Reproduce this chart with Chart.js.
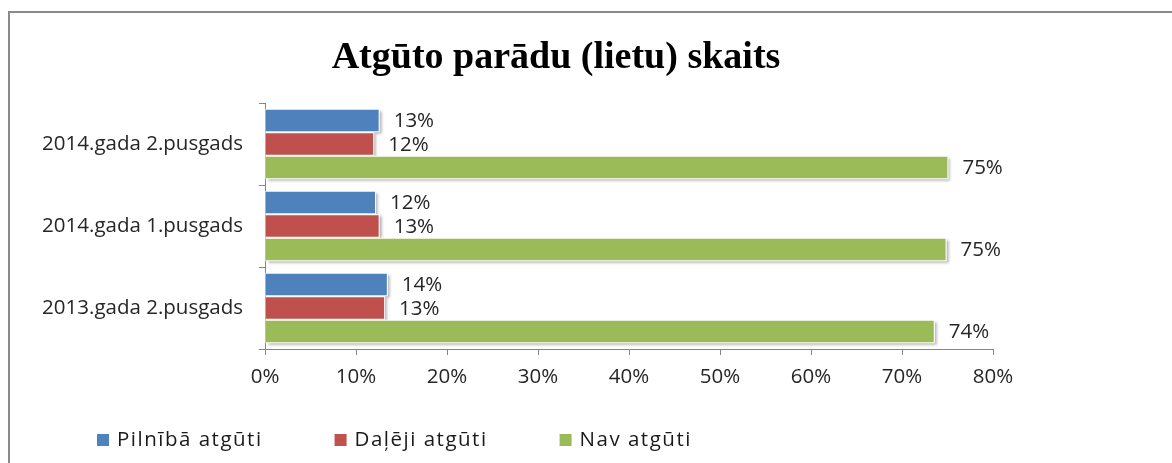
<!DOCTYPE html>
<html>
<head>
<meta charset="utf-8">
<script src="https://cdn.jsdelivr.net/npm/chart.js@4.4.1/dist/chart.umd.min.js"></script>
<style>
  html, body { margin: 0; padding: 0; background: #fff; overflow: hidden; }
  #wrap { position: relative; width: 1172px; height: 463px; }
  #frame { position: absolute; left: 8px; top: 11px; width: 1250px; height: 520px; border: 2px solid #8a8a8a; box-sizing: border-box; }
  #chart { position: absolute; left: 0; top: 0; }
</style>
</head>
<body>
<div id="wrap">
  <div id="frame"></div>
  <canvas id="chart" width="1172" height="463"></canvas>
</div>
<script>
"use strict";

const titleText = 'Atgūto parādu (lietu) skaits';
const periods = ['2014.gada 2.pusgads', '2014.gada 1.pusgads', '2013.gada 2.pusgads'];
const seriesNames = ['Pilnībā atgūti', 'Daļēji atgūti', 'Nav atgūti'];
const fullyRecovered = [12.6, 12.2, 13.5];
const partlyRecovered = [12.0, 12.6, 13.2];
const notRecovered = [75.1, 74.9, 73.6];
const seriesColors = ['#4F81BD', '#C0504D', '#9BBB59'];
const xTicks = [0, 10, 20, 30, 40, 50, 60, 70, 80];

const FONT = '"Open Sans", "Noto Sans", sans-serif';
const FONT_SIZE = 20.5;
const axisGrey = '#868686';

// ēnas zem stabiņiem
const barShadow = {
    id: 'barShadow',
    beforeDatasetsDraw(chart) {
        const ctx = chart.ctx;
        ctx.save();
        ctx.shadowColor = 'rgba(0,0,0,0.35)';
        ctx.shadowBlur = 3;
        ctx.shadowOffsetX = 2;
        ctx.shadowOffsetY = 2;
        ctx.fillStyle = '#fff';
        chart.data.datasets.forEach((ds, i) => {
            chart.getDatasetMeta(i).data.forEach(bar => {
                const p = bar.getProps(['x', 'y', 'base', 'height'], true);
                ctx.fillRect(p.base, p.y - p.height / 2, p.x - p.base, p.height);
            });
        });
        ctx.restore();
    }
};

// procentu uzraksti pie stabiņiem
const valueLabels = {
    id: 'valueLabels',
    afterDatasetsDraw(chart) {
        const ctx = chart.ctx;
        ctx.save();
        ctx.font = FONT_SIZE + 'px ' + FONT;
        ctx.fillStyle = '#262626';
        ctx.textAlign = 'left';
        ctx.textBaseline = 'middle';
        chart.data.datasets.forEach((ds, i) => {
            chart.getDatasetMeta(i).data.forEach((bar, j) => {
                ctx.fillText(Math.round(ds.data[j]) + '%', bar.x + 14, bar.y + 1);
            });
        });
        ctx.restore();
    }
};

// leģenda apakšā
const bottomLegend = {
    id: 'bottomLegend',
    afterDraw(chart) {
        const ctx = chart.ctx;
        ctx.save();
        ctx.font = FONT_SIZE + 'px ' + FONT;
        ctx.letterSpacing = '1.5px';
        ctx.textBaseline = 'middle';
        let x = 97;
        const y = 440;
        chart.data.datasets.forEach(ds => {
            ctx.fillStyle = ds.backgroundColor;
            ctx.fillRect(x, y - 6, 12, 12);
            ctx.fillStyle = '#1a1a1a';
            ctx.fillText(ds.label, x + 20, y);
            x += 20 + ctx.measureText(ds.label).width + 72;
        });
        ctx.restore();
    }
};

// virsrakstu centrē pa visu rāmi, ne tikai pa zīmējuma laukumu
const titleCenter = {
    id: 'titleCenter',
    afterLayout(chart) {
        const t = chart.titleBlock;
        if (!t) return;
        t.left = 0;
        t.right = 1112;
        t.width = 1112;
    }
};

const seriesData = [fullyRecovered, partlyRecovered, notRecovered];

new Chart(document.getElementById('chart'), {
    type: 'bar',
    data: {
        labels: periods,
        datasets: seriesNames.map((name, i) => ({
            label: name,
            data: seriesData[i],
            backgroundColor: seriesColors[i],
            borderColor: '#ffffff',
            borderWidth: 1,
            categoryPercentage: 0.86,
            barPercentage: 1.0
        }))
    },
    options: {
        indexAxis: 'y',
        responsive: false,
        animation: false,
        layout: { padding: { left: 0, right: 179, bottom: 74, top: 0 } },
        plugins: {
            legend: { display: false },
            tooltip: { enabled: false },
            title: {
                display: true,
                text: titleText,
                color: '#000',
                font: { family: '"Liberation Serif", "Times New Roman", serif', size: 38, weight: 'bold', lineHeight: 1.2 },
                padding: { top: 35, bottom: 22.4 }
            }
        },
        scales: {
            x: {
                min: 0, max: 80,
                afterBuildTicks: scale => { scale.ticks = xTicks.map(v => ({ value: v })); },
                afterFit: scale => { scale.height = 40; },
                ticks: {
                    callback: v => v + '%',
                    color: '#262626',
                    font: { family: FONT, size: FONT_SIZE },
                    padding: 10,
                    maxRotation: 0
                },
                grid: { drawOnChartArea: false, drawTicks: true, tickLength: 6, color: axisGrey },
                border: { display: true, color: axisGrey, width: 1 }
            },
            y: {
                afterFit: scale => { scale.width = 265; },
                ticks: {
                    color: '#262626',
                    font: { family: FONT, size: FONT_SIZE },
                    padding: 16
                },
                grid: { offset: true, drawOnChartArea: false, drawTicks: true, tickLength: 6, color: axisGrey },
                border: { display: true, color: axisGrey, width: 1 }
            }
        }
    },
    plugins: [titleCenter, barShadow, valueLabels, bottomLegend]
});
</script>
</body>
</html>
